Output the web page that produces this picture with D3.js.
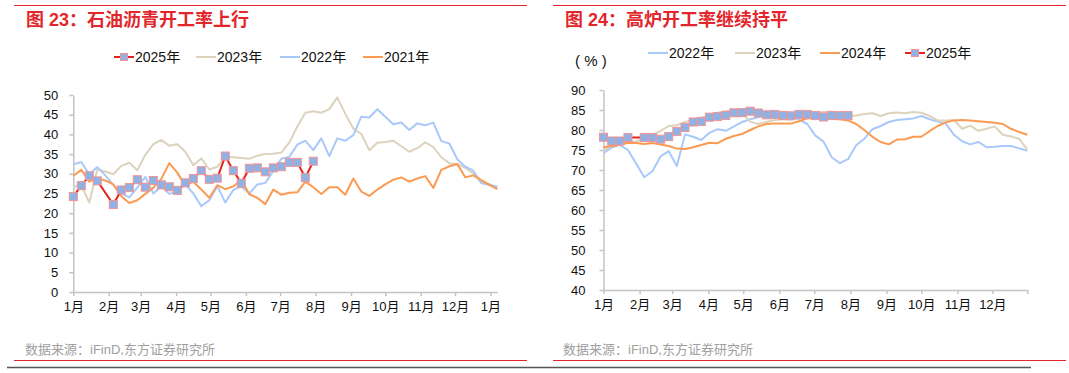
<!DOCTYPE html>
<html lang="zh">
<head>
<meta charset="utf-8">
<title>石油沥青开工率 / 高炉开工率</title>
<script src="https://cdn.jsdelivr.net/npm/d3@7/dist/d3.min.js"></script>
<style>
  body { margin: 0; background: #fff; }
  svg text { font-family: "Liberation Sans", "Noto Sans CJK SC", sans-serif; }
</style>
</head>
<body>
<script>
// page size
var width = 1069;
var height = 373;

// month labels for the x axis
var monthLabels = ["1月", "2月", "3月", "4月", "5月", "6月", "7月", "8月", "9月", "10月", "11月", "12月"];

// 图23 石油沥青开工率 (%), weekly, starting first week of Jan
var asphalt2025 = [24.2, 27.0, 29.5, 28.2, null, 22.2, 25.9, 26.5, 28.5, 26.6,
  28.3, 27.2, 26.7, 25.8, 27.7, 28.8, 30.8, 28.6, 28.9, 34.5,
  30.8, 27.6, 31.4, 31.5, 30.5, 31.5, 31.8, 32.9, 32.9, 29.0, 33.2];
var asphalt2023 = [26.7, 27.1, 22.7, 31.1, 30.6, 29.9, 32.0, 32.8, 30.9, 34.8,
  37.5, 38.6, 37.1, 37.5, 35.6, 32.2, 33.9, 31.1, 31.8, 34.3,
  34.2, 34.0, 33.8, 34.6, 35.0, 35.1, 35.4, 37.9, 42.0, 45.5,
  45.9, 45.5, 46.4, 49.4, 45.2, 41.5, 40.1, 36.0, 37.9, 38.1,
  38.4, 37.0, 35.6, 36.5, 38.0, 36.8, 34.2, 32.7, 32.5, 31.5,
  30.0, 28.0, 27.4, 26.5];
var asphalt2022 = [32.4, 33.0, 29.8, 31.7, 29.6, 27.2, 25.0, 24.0, 26.5, 29.2,
  25.0, 26.8, 24.9, 25.5, 27.3, 25.0, 21.8, 23.3, 26.9, 22.7,
  25.9, 26.8, 25.0, 27.3, 27.7, 30.7, 33.8, 34.3, 37.4, 38.4,
  36.0, 39.0, 34.5, 39.0, 38.4, 39.8, 44.5, 44.3, 46.4, 44.5,
  42.6, 43.0, 41.1, 42.8, 42.3, 43.0, 38.3, 37.7, 33.7, 31.8,
  30.8, 27.6, 27.2, 26.7];
var asphalt2021 = [29.5, 31.0, 28.0, 28.9, 28.3, 27.3, 24.3, 22.6, 23.3, 24.9,
  26.5, 28.7, 32.7, 30.3, 27.0, 28.0, 26.0, 23.9, 27.1, 26.1,
  26.8, 28.5, 24.8, 23.9, 22.3, 26.0, 24.7, 25.2, 25.3, 28.0,
  26.6, 24.9, 26.6, 26.6, 24.7, 28.8, 25.5, 24.4, 26.0, 27.3,
  28.5, 29.1, 28.0, 28.8, 29.4, 26.4, 31.0, 31.9, 32.5, 29.1,
  29.6, 28.4, 27.2, 26.1];
var asphaltTicks = [0, 5, 10, 15, 20, 25, 30, 35, 40, 45, 50];

// 图24 高炉开工率 (%), weekly
var furnace2022 = [74.3, 75.6, 76.3, 75.0, 71.6, 68.2, 69.7, 73.4, 74.7, 71.0,
  78.9, 78.3, 77.5, 79.3, 80.2, 79.8, 80.9, 82.0, 82.7, 83.2,
  83.7, 83.9, 83.8, 83.3, 82.6, 81.5, 78.6, 77.1, 73.2, 71.7,
  72.7, 76.2, 77.8, 80.2, 81.0, 82.0, 82.5, 82.7, 82.9, 83.5,
  82.7, 82.1, 81.6, 78.8, 77.2, 76.4, 77.0, 75.7, 75.8, 76.0,
  76.0, 75.4, 74.8];
var furnace2023 = [74.8, 76.2, 76.5, 77.0, 77.2, 77.8, 78.7, 79.8, 81.0, 81.2,
  82.0, 82.5, 83.0, 83.9, 84.3, 84.7, 85.0, 84.3, 82.1, 81.5,
  82.0, 82.5, 82.6, 82.6, 83.8, 84.2, 84.3, 84.5, 84.6, 84.3,
  83.4, 83.6, 84.0, 84.2, 83.5, 84.2, 84.4, 84.2, 84.5, 84.3,
  83.5, 82.4, 82.4, 82.5, 80.3, 81.1, 79.8, 80.3, 80.9, 78.8,
  78.4, 77.8, 75.1];
var furnace2024 = [75.7, 76.0, 76.3, 76.8, 76.75, 76.5, 76.75, 76.4, 76.0, 75.35,
  75.25, 75.7, 76.25, 76.8, 76.7, 77.8, 78.5, 79.0, 80.0, 80.9,
  81.5, 81.6, 81.6, 81.6, 82.2, 82.9, 83.2, 82.9, 82.8, 82.7,
  82.4, 81.5, 80.0, 78.3, 77.0, 76.4, 77.6, 77.7, 78.3, 78.3,
  79.7, 81.0, 81.9, 82.4, 82.5, 82.4, 82.2, 82.0, 81.8, 81.5,
  80.3, 79.5, 78.8];
var furnace2025 = [78.2, 77.25, 77.25, 78.1, null, 78.1, 78.1, 77.7, 78.35, 79.65,
  80.65, 82.0, 82.15, 83.2, 83.35, 83.65, 84.3, 84.35, 84.7, 84.25,
  83.8, 83.9, 83.65, 83.55, 83.9, 83.9, 83.6, 83.25, 83.6, 83.6, 83.6];
var furnaceTicks = [40, 45, 50, 55, 60, 65, 70, 75, 80, 85, 90];

// colours
var red = "#e3262b";
var colorBlue = "#a9c9fb";
var colorTan = "#ddd3bd";
var colorOrange = "#fb9a52";
var color2025 = "#e8221c";
var markerFill = "#8fb1e3";
var markerStroke = "#f29494";

// set up SVG
var svg = d3.select("body").append("svg").attr("width", width).attr("height", height);

// weekly dates in a generic year
var base = new Date(2021, 0, 1);
function weekDate(i) {
  return d3.timeDay.offset(base, 7 * i);
}
function toPoints(values) {
  return values.map(function (v, i) {
    return { date: weekDate(i), value: v };
  }).filter(function (d) { return d.value !== null; });
}

function drawPanel(p) {
  var g = svg.append("g");

  // red rule above title
  g.append("line")
    .attr("x1", p.ruleX[0]).attr("x2", p.ruleX[1])
    .attr("y1", 5.5).attr("y2", 5.5)
    .attr("stroke", red).attr("stroke-width", 1.2);

  // title
  g.append("text")
    .attr("x", p.titleX).attr("y", 26)
    .attr("fill", red)
    .style("font-size", "18px")
    .style("font-weight", "bold")
    .text(p.title);

  var x = d3.scaleTime().domain(p.xDomain).range(p.xRange);
  var y = d3.scaleLinear().domain(p.yDomain).range(p.yRange);

  // x axis
  var xAxis = d3.axisBottom(x)
    .tickValues(p.xTicks)
    .tickFormat(function (d) { return d.getDate() === 1 ? monthLabels[d.getMonth()] : ""; })
    .tickSizeInner(4).tickSizeOuter(0).tickPadding(6);
  var gx = g.append("g")
    .attr("transform", "translate(0," + p.yRange[0] + ")")
    .call(xAxis);

  // y axis
  var yAxis = d3.axisLeft(y)
    .tickValues(p.yTicks)
    .tickSizeInner(4).tickSizeOuter(0).tickPadding(p.yPad);
  var gy = g.append("g")
    .attr("transform", "translate(" + p.xRange[0] + ",0)")
    .call(yAxis);

  [gx, gy].forEach(function (a) {
    a.select(".domain").attr("stroke", "#c4c4c4").attr("stroke-width", 1.5);
    a.selectAll(".tick line").attr("stroke", "#c4c4c4").attr("stroke-width", 1.5);
    a.selectAll(".tick text").attr("fill", "#111").style("font-size", "13px");
  });

  // lines
  var line = d3.line()
    .x(function (d) { return x(d.date); })
    .y(function (d) { return y(d.value); });

  p.series.forEach(function (s) {
    var pts = toPoints(s.values);
    g.append("path")
      .datum(pts)
      .attr("fill", "none")
      .attr("stroke", s.color)
      .attr("stroke-width", 2)
      .attr("stroke-linejoin", "round")
      .attr("d", line);
    if (s.marker) {
      g.selectAll(null)
        .data(pts)
        .enter()
        .append("rect")
        .attr("x", function (d) { return x(d.date) - 4; })
        .attr("y", function (d) { return y(d.value) - 4; })
        .attr("width", 8).attr("height", 8)
        .attr("fill", markerFill)
        .attr("stroke", markerStroke)
        .attr("stroke-width", 1);
    }
  });

  // legend
  var lg = g.selectAll(".legend")
    .data(p.legend)
    .enter()
    .append("g")
    .attr("transform", function (d) { return "translate(" + d.x + "," + p.legendY + ")"; });
  lg.append("line")
    .attr("x1", 0).attr("x2", 20)
    .attr("stroke", function (d) { return d.series.color; })
    .attr("stroke-width", 2);
  lg.filter(function (d) { return d.series.marker; })
    .append("rect")
    .attr("x", 6.5).attr("y", -3.5).attr("width", 7).attr("height", 7)
    .attr("fill", markerFill).attr("stroke", markerStroke);
  lg.append("text")
    .attr("x", 21).attr("y", 5)
    .style("font-size", "14px")
    .attr("fill", "#111")
    .text(function (d) { return d.series.name; });

  // source
  g.append("text")
    .attr("x", p.sourceX).attr("y", 354)
    .attr("fill", "#a0a0a0")
    .style("font-size", "13px")
    .text("数据来源：iFinD,东方证券研究所");
  g.append("line")
    .attr("x1", p.ruleX[0]).attr("x2", p.ruleX[1])
    .attr("y1", 360.5).attr("y2", 360.5)
    .attr("stroke", red).attr("stroke-width", 1.2);

  return g;
}

// 图23
var leftSeries = {
  s2025: { name: "2025年", values: asphalt2025, color: color2025, marker: true },
  s2023: { name: "2023年", values: asphalt2023, color: colorTan },
  s2022: { name: "2022年", values: asphalt2022, color: colorBlue },
  s2021: { name: "2021年", values: asphalt2021, color: colorOrange }
};
drawPanel({
  title: "图 23：石油沥青开工率上行",
  titleX: 26,
  ruleX: [14, 527],
  sourceX: 25,
  xDomain: [base, d3.timeDay.offset(base, 7 * 53)],
  xRange: [73.3, 497.3],
  xTicks: d3.timeMonth.range(base, new Date(2022, 0, 2)),
  yDomain: [0, 50],
  yRange: [292, 95],
  yTicks: asphaltTicks,
  yPad: 11,
  series: [leftSeries.s2023, leftSeries.s2022, leftSeries.s2021, leftSeries.s2025],
  legendY: 57,
  legend: [
    { series: leftSeries.s2025, x: 114 },
    { series: leftSeries.s2023, x: 196 },
    { series: leftSeries.s2022, x: 280 },
    { series: leftSeries.s2021, x: 363 }
  ]
});

// 图24
var rightSeries = {
  s2022: { name: "2022年", values: furnace2022, color: colorBlue },
  s2023: { name: "2023年", values: furnace2023, color: colorTan },
  s2024: { name: "2024年", values: furnace2024, color: colorOrange },
  s2025: { name: "2025年", values: furnace2025, color: color2025, marker: true }
};
var right = drawPanel({
  title: "图 24：高炉开工率继续持平",
  titleX: 565,
  ruleX: [553, 1066],
  sourceX: 563,
  xDomain: [base, d3.timeDay.offset(base, 364)],
  xRange: [603.5, 1027.3],
  xTicks: d3.timeMonth.range(base, new Date(2021, 11, 2)).concat([d3.timeDay.offset(base, 364)]),
  yDomain: [40, 90],
  yRange: [290, 90],
  yTicks: furnaceTicks,
  yPad: 14,
  series: [rightSeries.s2022, rightSeries.s2023, rightSeries.s2024, rightSeries.s2025],
  legendY: 53,
  legend: [
    { series: rightSeries.s2022, x: 648 },
    { series: rightSeries.s2023, x: 735 },
    { series: rightSeries.s2024, x: 820 },
    { series: rightSeries.s2025, x: 905 }
  ]
});

// unit label
right.append("text")
  .attr("x", 575).attr("y", 66)
  .style("font-size", "15px")
  .attr("fill", "#111")
  .text("( % )");

// bottom dark rule
svg.append("line")
  .attr("x1", 7).attr("x2", 1031)
  .attr("y1", 367.5).attr("y2", 367.5)
  .attr("stroke", "#555").attr("stroke-width", 1.5);
</script>
</body>
</html>
